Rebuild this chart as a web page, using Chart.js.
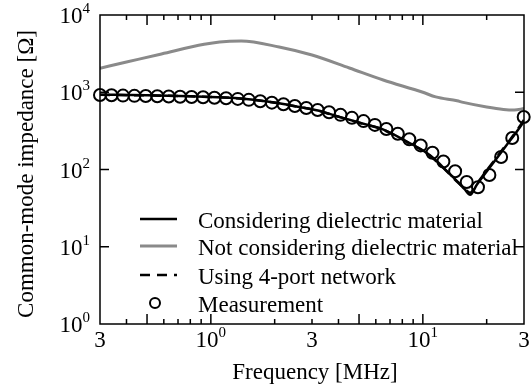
<!DOCTYPE html>
<html>
<head>
<meta charset="utf-8">
<script src="https://cdn.jsdelivr.net/npm/chart.js@4/dist/chart.umd.min.js"></script>
<style>
  body { margin: 0; background: #fff; }
</style>
</head>
<body>
<canvas id="myChart" width="532" height="389"></canvas>
<script>
"use strict";

// measured impedance (circles)
const measFreq = [0.300, 0.340, 0.385, 0.436, 0.493, 0.559, 0.633, 0.716, 0.811, 0.919,
  1.04, 1.18, 1.34, 1.51, 1.71, 1.94, 2.20, 2.49, 2.82, 3.19,
  3.61, 4.09, 4.63, 5.25, 5.94, 6.73, 7.62, 8.63, 9.77, 11.1,
  12.5, 14.2, 16.1, 18.2, 20.6, 23.4, 26.4, 29.9];
const measImp = [921, 915, 905, 898, 893, 888, 882, 875, 868, 860,
  850, 838, 820, 797, 765, 733, 700, 664, 625, 589,
  552, 510, 466, 423, 378, 334, 290, 246, 205, 165,
  127, 95, 69, 59, 85, 145, 256, 478];

// simulation considering dielectric material (black solid)
const dielFreq = [0.3, 0.5, 0.8, 1.0, 1.35, 2.0, 2.57, 3.2, 3.94, 5.0, 6.4, 8.6,
  10.3, 11.5, 13, 14.7, 15.7, 16.7, 18, 20, 22, 25, 27, 30];
const dielImp = [930, 915, 890, 870, 835, 735, 650, 580, 490, 405, 335, 222,
  168, 132, 95, 68, 56, 47, 64, 94, 133, 212, 280, 420];

// simulation without dielectric material (gray)
const noDielFreq = [0.3, 0.4, 0.585, 0.93, 1.1, 1.39, 2.1, 3.0, 4.5, 6.5, 10, 11.5, 14.5, 15.5, 20, 24, 27, 30];
const noDielImp = [2050, 2460, 3130, 4180, 4480, 4600, 3850, 3030, 2060, 1440, 1000, 870, 775, 740, 645, 600, 590, 615];

// 4-port network model (black dashed)
const portFreq = [0.3, 0.5, 0.8, 1.0, 1.35, 2.0, 2.57, 3.2, 3.94, 5.0, 6.4, 8.6,
  10.3, 11.5, 13, 14.7, 15.7, 16.7, 18, 20, 22, 25, 27, 30];
const portImp = [925, 910, 888, 868, 833, 733, 648, 578, 488, 403, 333, 220,
  166, 130, 94, 67, 57, 50, 66, 97, 137, 218, 288, 440];

const legendLabels = ['Considering dielectric material', 'Not considering dielectric material',
  'Using 4-port network', 'Measurement'];

// tick values and labels ([base, exponent])
const xTickVals = [0.3, 1, 3, 10, 30];
const xTickLabels = [['3', ''], ['10', '0'], ['3', ''], ['10', '1'], ['3', '']];
const xMinor = [0.4, 0.6, 0.7, 0.8, 0.9, 2, 3, 4, 6, 7, 8, 9, 20];
const xMid = [0.5, 1, 5, 10];
const yTickVals = [1, 10, 100, 1000, 10000];
const yTickLabels = [['10', '0'], ['10', '1'], ['10', '2'], ['10', '3'], ['10', '4']];

const FONT = '"Liberation Serif", "Times New Roman", serif';
const GRAY = '#8a8a8a';

const pts = (xs, ys) => xs.map((f, i) => ({ x: f, y: ys[i] }));

function drawPow(ctx, base, exp, x, baseline, align) {
  ctx.font = '23px ' + FONT;
  const wb = ctx.measureText(base).width;
  ctx.font = '15px ' + FONT;
  const we = exp ? ctx.measureText(exp).width : 0;
  let start = align === 'right' ? x - wb - we : x - (wb + we) / 2;
  ctx.textAlign = 'left';
  ctx.textBaseline = 'alphabetic';
  ctx.font = '23px ' + FONT;
  ctx.fillText(base, start, baseline);
  if (exp) {
    ctx.font = '15px ' + FONT;
    ctx.fillText(exp, start + wb, baseline - 10);
  }
}

const frameAndLabels = {
  id: 'frameAndLabels',
  afterDraw(chart) {
    const { ctx, chartArea: a, scales: { x, y } } = chart;
    ctx.save();
    ctx.strokeStyle = '#000';
    ctx.fillStyle = '#000';
    ctx.lineWidth = 1.5;
    ctx.strokeRect(a.left, a.top, a.right - a.left, a.bottom - a.top);

    const seg = (x1, y1, x2, y2) => {
      ctx.beginPath(); ctx.moveTo(x1, y1); ctx.lineTo(x2, y2); ctx.stroke();
    };
    xMinor.concat(xMid).forEach(v => {
      const px = x.getPixelForValue(v);
      const len = xMid.includes(v) ? 10 : 5;
      seg(px, a.bottom, px, a.bottom - len);
      seg(px, a.top, px, a.top + len);
    });
    yTickVals.slice(1, -1).forEach(v => {
      const py = y.getPixelForValue(v);
      seg(a.left, py, a.left + 9, py);
      seg(a.right, py, a.right - 9, py);
    });

    xTickVals.forEach((v, i) => {
      drawPow(ctx, xTickLabels[i][0], xTickLabels[i][1], x.getPixelForValue(v), a.bottom + 23, 'center');
    });
    yTickVals.forEach((v, i) => {
      drawPow(ctx, yTickLabels[i][0], yTickLabels[i][1], 90, y.getPixelForValue(v) + 8, 'right');
    });

    // axis titles
    ctx.font = '23px ' + FONT;
    ctx.textAlign = 'center';
    ctx.textBaseline = 'alphabetic';
    ctx.fillText('Frequency [MHz]', 315, 379);
    ctx.save();
    ctx.translate(33, 174);
    ctx.rotate(-Math.PI / 2);
    ctx.fillText('Common-mode impedance [\u03A9]', 0, 0);
    ctx.restore();

    // legend
    const rows = [228, 255, 284, 312];
    chart.data.datasets.forEach((ds, i) => {
      const cy = rows[i] - 9;
      ctx.save();
      ctx.strokeStyle = ds.borderColor;
      if (ds.showLine === false) {
        ctx.lineWidth = 2;
        ctx.beginPath();
        ctx.arc(155, cy, 5, 0, Math.PI * 2);
        ctx.stroke();
      } else {
        ctx.lineWidth = ds.borderWidth;
        ctx.setLineDash(ds.borderDash || []);
        seg(140, cy, 177, cy);
      }
      ctx.restore();
      ctx.font = '23px ' + FONT;
      ctx.textAlign = 'left';
      ctx.fillText(legendLabels[i], 198, rows[i]);
    });
    ctx.restore();
  }
};

const data = {
  datasets: [
    {
      data: pts(dielFreq, dielImp),
      borderColor: '#000',
      borderWidth: 2.5,
      pointRadius: 0,
      cubicInterpolationMode: 'monotone',
      order: 2,
    },
    {
      data: pts(noDielFreq, noDielImp),
      borderColor: GRAY,
      borderWidth: 3,
      pointRadius: 0,
      cubicInterpolationMode: 'monotone',
      order: 3,
    },
    {
      data: pts(portFreq, portImp),
      borderColor: '#000',
      borderWidth: 2.5,
      borderDash: [10, 7],
      pointRadius: 0,
      cubicInterpolationMode: 'monotone',
      order: 1,
    },
    {
      data: pts(measFreq, measImp),
      borderColor: '#000',
      backgroundColor: 'rgba(0,0,0,0)',
      showLine: false,
      pointRadius: 6,
      pointBorderWidth: 2,
      clip: false,
      order: 0,
    }
  ]
};

const config = {
  type: 'line',
  data: data,
  options: {
    responsive: false,
    animation: false,
    devicePixelRatio: 1,
    layout: { padding: { left: 100, right: 2, top: 15, bottom: 65 } },
    scales: {
      x: { type: 'logarithmic', min: 0.3, max: 30, display: false },
      y: { type: 'logarithmic', min: 1, max: 10000, display: false }
    },
    plugins: {
      legend: { display: false },
      tooltip: { enabled: false }
    }
  },
  plugins: [frameAndLabels]
};

const myChart = new Chart(document.getElementById('myChart'), config);
</script>
</body>
</html>
